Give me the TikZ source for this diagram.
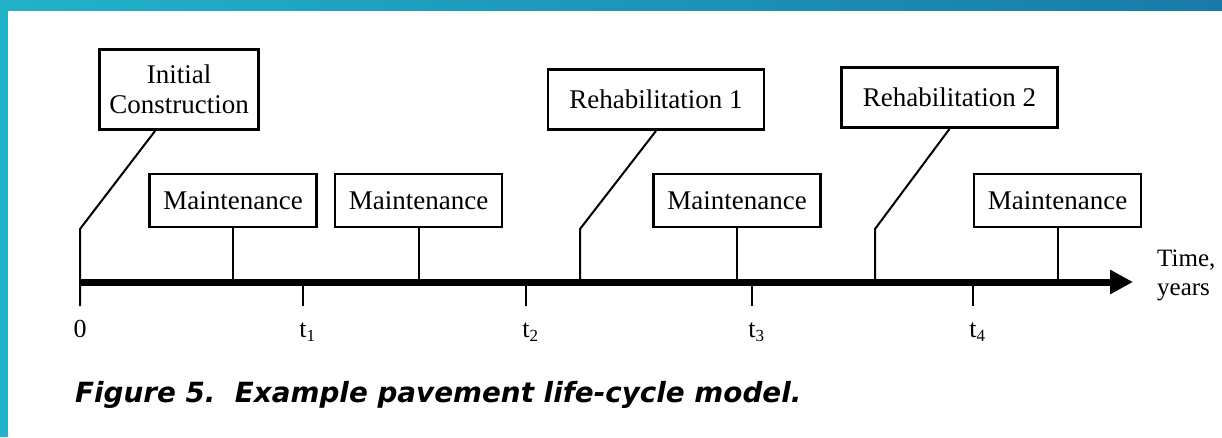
\documentclass[tikz,border=0pt]{standalone}
\usepackage{fontspec}
\setmainfont{Liberation Serif}
\newfontfamily\capfont{DejaVu Sans}
\usetikzlibrary{arrows.meta,calc}
\definecolor{bandteal}{RGB}{34,178,202}
\definecolor{bandblue}{RGB}{24,122,168}
\begin{document}
\begin{tikzpicture}[x=1pt,y=-1pt,
  box/.style={draw,line width=2.8pt,fill=white,inner sep=0pt,align=center,
    font=\fontsize{27}{30}\selectfont},
  mbox/.style={box,minimum width=167pt,minimum height=53pt},
  rbox/.style={box,minimum width=216pt,minimum height=60pt},
  conn/.style={line width=2pt},
  tick/.style={line width=2pt},
  axisline/.style={line width=7pt,-{Triangle[length=23pt,width=23pt]}},
  ticklabel/.style={anchor=base,inner sep=0pt,font=\fontsize{26}{30}\selectfont}]
% background and frame bands
\fill[white] (0,0) rectangle (1222,437);
\useasboundingbox (0,0) rectangle (1222,437);
\shade[left color=bandteal,right color=bandblue] (0,0) rectangle (1222,10);
\fill[bandteal] (0,0) rectangle (8,437);

% axis coordinates
\coordinate (a0) at (80,282);
\coordinate (aend) at (1133,282);
\coordinate (t1) at (303,282);
\coordinate (t2) at (526,282);
\coordinate (t3) at (752,282);
\coordinate (t4) at (973,282);
\coordinate (aic) at (80,282);
\coordinate (ar1) at (580,282);
\coordinate (ar2) at (875,282);
\coordinate (bic) at (80,229);
\coordinate (br1) at (580,229);
\coordinate (br2) at (875,229);

% boxes
\node[box,minimum width=159pt,minimum height=80pt] (ic) at (179,89.5) {Initial\\Construction};
\node[rbox] (r1) at (656,99.5) {Rehabilitation 1};
\node[rbox] (r2) at (949.5,97.5) {Rehabilitation 2};
\node[mbox] (m1) at (233,200.5) {Maintenance};
\node[mbox] (m2) at (418.5,200.5) {Maintenance};
\node[mbox] (m3) at (737,200.5) {Maintenance};
\node[mbox] (m4) at (1057.5,200.5) {Maintenance};

% connectors
\draw[conn] ([xshift=57pt]ic.south west) -- (bic) -- (aic) -- ++(0,24);
\draw[conn] (r1.south) -- (br1) -- (ar1);
\draw[conn] (r2.south) -- (br2) -- (ar2);
\draw[conn] (m1.south) -- (m1.south |- a0);
\draw[conn] (m2.south) -- (m2.south |- a0);
\draw[conn] (m3.south) -- (m3.south |- a0);
\draw[conn] (m4.south) -- (m4.south |- a0);

% ticks
\foreach \t in {t1,t2,t3,t4} \draw[tick] (\t) -- ++(0,24);

% axis
\draw[axisline] (a0) -- (aend);

% tick labels
\node[ticklabel] (l0) at (80,337) {0};
\node[ticklabel] (l1) at (303,337) {t\rlap{\raisebox{-0.35ex}{\fontsize{17}{17}\selectfont 1}}};
\node[ticklabel] (l2) at (526,337) {t\rlap{\raisebox{-0.35ex}{\fontsize{17}{17}\selectfont 2}}};
\node[ticklabel] (l3) at (752,337) {t\rlap{\raisebox{-0.35ex}{\fontsize{17}{17}\selectfont 3}}};
\node[ticklabel] (l4) at (973,337) {t\rlap{\raisebox{-0.35ex}{\fontsize{17}{17}\selectfont 4}}};

% axis label
\node[anchor=north west,inner sep=0pt,align=left,font=\fontsize{25}{29}\selectfont] (tl) at (1157,250) {Time,\\years};

% caption
\node[anchor=base west,inner sep=0pt,font=\capfont\bfseries\itshape\fontsize{27.8}{30}\selectfont] (cap) at (75,402) {Figure 5.\ \ Example pavement life-cycle model.};
\end{tikzpicture}
\end{document}
